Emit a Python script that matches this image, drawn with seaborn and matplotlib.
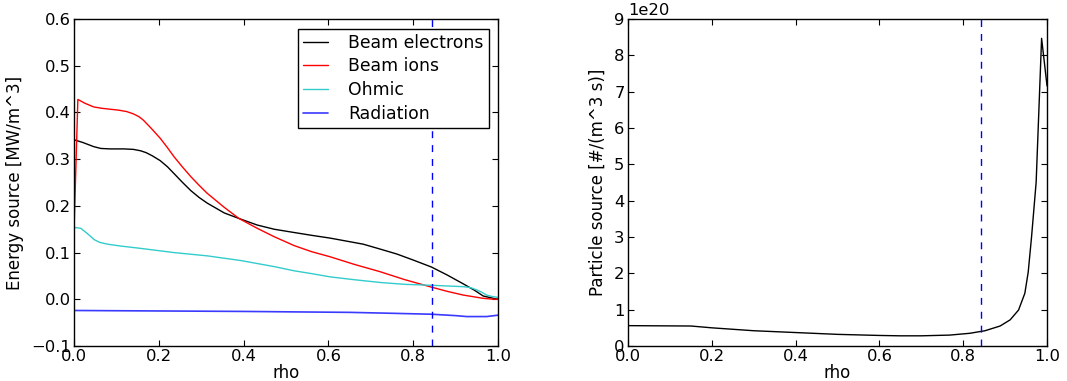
import numpy as np
import pandas as pd
import matplotlib
matplotlib.use("Agg")
import matplotlib.pyplot as plt
import seaborn as sns

# ---- data ----
rho_be = [0.0, 0.002, 0.02, 0.046, 0.063, 0.085, 0.118, 0.140, 0.157, 0.170, 0.185, 0.203, 0.220,
          0.236, 0.255, 0.275, 0.295, 0.314, 0.354, 0.389, 0.432, 0.472, 0.519, 0.560, 0.604, 0.640,
          0.682, 0.720, 0.761, 0.800, 0.843, 0.880, 0.918, 0.945, 0.965, 0.989, 1.0]
beam_electrons = [0.341, 0.341, 0.336, 0.327, 0.323, 0.322, 0.322, 0.321, 0.318, 0.314, 0.307,
                  0.297, 0.284, 0.269, 0.251, 0.233, 0.218, 0.206, 0.185, 0.173, 0.159, 0.150,
                  0.143, 0.137, 0.131, 0.125, 0.118, 0.108, 0.097, 0.084, 0.069, 0.052, 0.033,
                  0.019, 0.007, 0.002, 0.0]

rho_bi = [0.0, 0.009, 0.025, 0.046, 0.065, 0.085, 0.105, 0.124, 0.140, 0.153, 0.163, 0.180, 0.203,
          0.220, 0.236, 0.255, 0.275, 0.295, 0.314, 0.354, 0.389, 0.432, 0.472, 0.519, 0.560,
          0.604, 0.660, 0.722, 0.780, 0.843, 0.880, 0.918, 0.945, 0.965, 0.985, 1.0]
beam_ions = [0.150, 0.428, 0.420, 0.412, 0.409, 0.407, 0.405, 0.402, 0.397, 0.391, 0.384, 0.368,
             0.345, 0.325, 0.305, 0.284, 0.263, 0.244, 0.227, 0.197, 0.173, 0.152, 0.134, 0.115,
             0.102, 0.091, 0.075, 0.059, 0.042, 0.026, 0.017, 0.009, 0.005, 0.002, 0.0005, 0.0]

rho_oh = [0.0, 0.016, 0.031, 0.040, 0.047, 0.060, 0.079, 0.110, 0.157, 0.236, 0.314, 0.393, 0.472,
          0.519, 0.560, 0.604, 0.660, 0.722, 0.780, 0.843, 0.918, 0.935, 0.950, 0.962, 0.973,
          0.986, 1.0]
ohmic = [0.154, 0.152, 0.141, 0.134, 0.128, 0.122, 0.118, 0.114, 0.109, 0.100, 0.093, 0.083, 0.070,
         0.061, 0.055, 0.048, 0.042, 0.036, 0.032, 0.030, 0.027, 0.025, 0.020, 0.015, 0.009,
         0.006, 0.004]

rho_rad = [0.0, 0.2, 0.4, 0.52, 0.65, 0.75, 0.843, 0.9, 0.926, 0.973, 1.0]
radiation = [-0.024, -0.025, -0.026, -0.027, -0.028, -0.030, -0.032, -0.035, -0.037, -0.037, -0.034]

rho_p = [0.0, 0.15, 0.20, 0.30, 0.40, 0.50, 0.60, 0.649, 0.70, 0.768, 0.816, 0.852, 0.888, 0.912,
         0.932, 0.947, 0.955, 0.963, 0.974, 0.987, 1.0]
particle_source = [0.56e20, 0.55e20, 0.50e20, 0.42e20, 0.37e20, 0.32e20, 0.29e20, 0.28e20,
                   0.28e20, 0.30e20, 0.35e20, 0.42e20, 0.55e20, 0.72e20, 0.99e20, 1.45e20,
                   2.03e20, 3.0e20, 4.51e20, 8.47e20, 7.16e20]

rho_sep = 0.843

left_ticks_y = [-0.1, 0.0, 0.1, 0.2, 0.3, 0.4, 0.5, 0.6]
right_ticks_y = [0, 1e20, 2e20, 3e20, 4e20, 5e20, 6e20, 7e20, 8e20, 9e20]
x_ticks = [0.0, 0.2, 0.4, 0.6, 0.8, 1.0]

# ---- style ----
sns.set_style("ticks")
plt.rcParams.update({
    "font.family": ["DejaVu Sans"],
    "font.size": 11.5,
    "xtick.direction": "in",
    "ytick.direction": "in",
    "xtick.top": True,
    "ytick.right": True,
    "xtick.major.size": 4,
    "ytick.major.size": 4,
    "xtick.major.pad": 2,
    "ytick.major.pad": 2.5,
    "xtick.labelsize": 11.8,
    "ytick.labelsize": 11.8,
    "axes.labelsize": 12,
    "axes.edgecolor": "black",
    "axes.linewidth": 1.0,
    "xtick.color": "black",
    "ytick.color": "black",
    "text.color": "black",
    "axes.labelcolor": "black",
})

fig = plt.figure(figsize=(10.67, 3.81), dpi=100)
ax1 = fig.add_axes([0.0694, 0.0919, 0.3974, 0.858])
ax2 = fig.add_axes([0.5886, 0.0919, 0.3927, 0.858])

series = [
    ("Beam electrons", rho_be, beam_electrons, "black", 1.0),
    ("Beam ions", rho_bi, beam_ions, "red", 1.0),
    ("Ohmic", rho_oh, ohmic, "#33cccc", 1.0),
    ("Radiation", rho_rad, radiation, "#3a3aff", 1.2),
]
for name, xs, ys, col, lw in series:
    df = pd.DataFrame({"rho": xs, "val": ys})
    sns.lineplot(data=df, x="rho", y="val", ax=ax1, color=col, linewidth=lw,
                 label=name, sort=False, estimator=None)

ax1.axvline(rho_sep, color="blue", linestyle=(0, (5, 5)), linewidth=1.0)
ax1.set_xlim(0, 1)
ax1.set_ylim(-0.1, 0.6)
ax1.set_xticks(x_ticks)
ax1.set_yticks(left_ticks_y)
ax1.set_xlabel("rho", labelpad=0)
ax1.set_ylabel("Energy source [MW/m^3]", labelpad=5)
leg = ax1.legend(loc="upper right", fancybox=False, framealpha=1, edgecolor="black",
                 handlelength=1.45, handletextpad=1.15, fontsize=12.4, borderpad=0.3,
                 labelspacing=0.33, borderaxespad=0.55)
leg.get_frame().set_linewidth(1.0)

dfp = pd.DataFrame({"rho": rho_p, "val": particle_source})
sns.lineplot(data=dfp, x="rho", y="val", ax=ax2, color="black", linewidth=1.0,
             sort=False, estimator=None)
ax2.axvline(rho_sep, color="blue", linestyle=(0, (5, 5)), linewidth=1.0)
ax2.set_xlim(0, 1)
ax2.set_ylim(0, 9e20)
ax2.set_xticks(x_ticks)
ax2.set_yticks(right_ticks_y)
ax2.set_xlabel("rho", labelpad=0)
ax2.set_ylabel("Particle source [#/(m^3 s)]", labelpad=5)

for ax in (ax1, ax2):
    for s in ax.spines.values():
        s.set_visible(True)
        s.set_color("black")

fig.savefig("out.png", dpi=100)
